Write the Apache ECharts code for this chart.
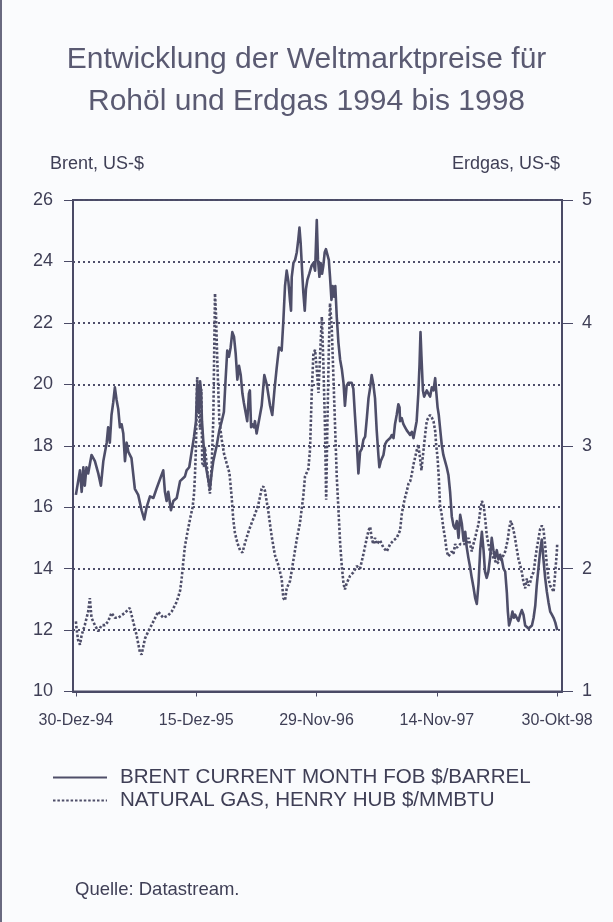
<!DOCTYPE html>
<html>
<head>
<meta charset="utf-8">
<script src="https://cdn.jsdelivr.net/npm/echarts@6/dist/echarts.min.js"></script>
<style>
html,body{margin:0;padding:0;background:#fafbfd;}
#c{width:613px;height:922px;}
</style>
</head>
<body>
<div id="c"></div>
<script>
// week index 0 = 30-Dez-94, 200 = 30-Okt-98
const xTickWeeks = [0, 50, 100, 150, 200];
const xTickLabels = ['30-Dez-94', '15-Dez-95', '29-Nov-96', '14-Nov-97', '30-Okt-98'];

// Brent current month FOB, $/barrel  [week, value]
const brentData = [[0,16.4],[1.7,17.2],[2.4,16.5],[3.1,17.3],[3.7,16.7],[4.4,17.3],[5.1,17.1],[6.5,17.7],[7.9,17.5],[9.3,17.1],[10.4,16.7],[11.4,17.5],[12.8,18.1],[13.4,18.6],[14.1,18.1],[14.8,19.0],[15.5,19.4],[16.2,19.9],[16.9,19.5],[17.6,19.2],[18.3,18.6],[19.0,18.7],[19.7,18.4],[20.4,17.5],[21.1,18.1],[21.8,17.8],[23.1,17.6],[24.5,16.6],[25.9,16.4],[27.3,15.9],[28.4,15.6],[29.4,16.0],[30.8,16.35],[32.2,16.3],[33.5,16.6],[34.9,16.9],[36.3,17.2],[37.0,16.5],[37.7,16.2],[38.4,16.5],[39.5,15.9],[40.5,16.2],[41.9,16.3],[43.3,16.85],[45.3,17.0],[46.0,17.2],[47.1,17.3],[48.1,17.8],[49.1,18.3],[49.9,18.8],[50.4,20.0],[51.0,19.1],[51.6,20.1],[52.0,19.8],[52.4,18.8],[52.9,18.2],[53.6,17.5],[54.3,17.2],[55.0,16.9],[55.7,16.6],[56.4,17.1],[57.1,17.5],[58.5,18.0],[59.6,18.5],[60.6,18.8],[61.5,19.1],[62.2,20.15],[62.9,21.1],[63.6,20.9],[64.3,21.2],[65.0,21.7],[65.7,21.55],[66.4,21.0],[67.1,20.15],[67.8,20.6],[68.5,20.3],[69.2,19.7],[69.8,19.4],[70.5,19.1],[71.2,18.8],[71.9,19.7],[72.3,19.8],[72.8,18.6],[73.3,18.7],[74.0,18.6],[74.4,18.8],[75.1,18.4],[75.8,18.7],[77.2,19.3],[78.3,20.3],[79.3,20.0],[80.7,19.3],[81.6,19.0],[82.5,19.8],[83.4,20.5],[84.4,21.2],[85.5,21.1],[86.2,22.05],[86.9,23.2],[87.6,23.7],[88.3,23.35],[89.0,22.7],[89.4,22.4],[89.7,23.5],[90.4,23.95],[91.1,24.05],[91.8,24.3],[92.4,24.7],[92.9,25.1],[93.4,24.6],[94.0,23.7],[94.5,23.0],[95.1,22.4],[95.6,23.1],[96.2,23.4],[97.0,23.6],[97.9,23.85],[98.7,23.95],[99.4,23.7],[100.1,25.35],[100.6,24.05],[101.2,23.5],[101.7,23.95],[102.3,23.6],[102.8,23.85],[103.4,24.3],[103.9,24.4],[104.5,24.4],[105.1,24.05],[105.6,23.5],[106.2,22.75],[106.7,23.2],[107.3,22.85],[107.8,23.2],[108.4,22.2],[109.1,21.35],[109.8,20.8],[110.5,20.5],[111.2,20.05],[111.8,19.3],[112.5,19.95],[113.2,20.05],[113.9,20.0],[114.6,20.05],[115.3,19.85],[116.0,18.95],[116.7,18.1],[117.4,17.1],[118.1,17.8],[118.8,17.9],[119.5,18.2],[120.2,18.3],[120.9,18.9],[121.6,19.55],[122.3,19.9],[122.9,20.3],[123.6,20.0],[124.3,19.55],[125.0,18.5],[125.7,17.7],[126.1,17.3],[126.7,17.5],[127.2,17.5],[127.8,17.7],[128.5,18.05],[129.2,18.15],[130.6,18.25],[131.3,18.35],[132.0,18.25],[132.6,18.7],[133.3,19.0],[134.0,19.35],[134.5,19.25],[134.7,18.8],[135.4,18.9],[136.1,18.7],[136.8,18.6],[137.5,18.5],[138.9,18.35],[139.6,18.45],[140.3,18.25],[140.9,18.25],[141.6,18.8],[142.3,19.7],[142.8,20.65],[143.2,21.7],[143.6,20.9],[144.2,19.8],[144.7,19.6],[145.3,19.7],[145.8,19.8],[146.5,19.7],[147.2,19.6],[147.9,19.9],[148.6,19.8],[149.3,20.2],[149.7,19.8],[150.3,19.25],[150.8,19.0],[151.3,18.6],[152.0,18.05],[152.7,17.7],[153.4,17.5],[154.1,17.3],[154.8,17.05],[155.5,16.5],[156.2,15.7],[156.9,15.4],[157.6,15.3],[158.3,15.55],[159.0,15.0],[159.7,15.75],[160.4,15.45],[161.1,14.9],[161.8,15.2],[162.4,14.7],[163.1,14.35],[163.8,14.05],[164.5,13.7],[165.2,13.4],[165.9,13.05],[166.6,12.85],[167.3,13.5],[168.0,14.6],[168.7,15.2],[169.4,14.6],[170.0,13.9],[170.7,13.7],[171.4,13.9],[172.1,14.35],[172.8,15.0],[173.5,14.6],[174.2,14.35],[174.9,14.6],[175.6,14.3],[176.3,14.45],[177.0,14.3],[177.7,14.0],[178.4,13.9],[179.1,13.2],[179.5,12.6],[180.0,12.15],[180.9,12.4],[181.4,12.6],[182.0,12.4],[182.5,12.5],[183.2,12.4],[183.9,12.3],[184.6,12.5],[185.3,12.65],[186.0,12.5],[186.7,12.15],[187.4,12.15],[188.1,12.05],[188.8,12.05],[189.5,12.15],[190.2,12.4],[190.9,12.8],[191.5,13.45],[192.2,14.0],[192.9,14.55],[193.6,14.95],[194.3,14.3],[195.0,13.7],[195.7,13.25],[196.4,12.9],[197.1,12.6],[197.8,12.5],[198.5,12.4],[199.2,12.25],[200,12.0]];

// Natural gas, Henry Hub $/MMBTU  [week, value]
const gasData = [[0,1.57],[0.3,1.51],[0.9,1.42],[1.7,1.38],[2.4,1.46],[3.7,1.54],[5.1,1.65],[5.8,1.76],[6.5,1.6],[7.9,1.54],[9.3,1.49],[10.7,1.54],[12.1,1.54],[13.4,1.57],[14.8,1.64],[16.2,1.6],[17.6,1.6],[19.0,1.62],[20.4,1.64],[22.4,1.68],[23.8,1.57],[25.2,1.46],[26.6,1.32],[27.3,1.3],[28.7,1.43],[30.1,1.49],[32.2,1.57],[34.2,1.65],[36.3,1.6],[38.4,1.62],[39.8,1.65],[41.9,1.73],[43.3,1.82],[43.9,1.91],[44.6,2.05],[45.3,2.18],[46.3,2.29],[47.4,2.4],[48.5,2.5],[49.1,2.61],[49.5,2.77],[49.9,2.99],[50.4,3.56],[51.0,3.32],[51.6,3.13],[52.1,3.46],[52.5,2.86],[53.2,2.83],[53.6,2.99],[54.3,2.86],[55.0,2.72],[55.7,2.61],[56.4,2.83],[57.1,3.21],[57.8,4.24],[58.2,4.08],[58.8,3.67],[59.6,3.21],[60.6,3.05],[61.5,2.94],[62.6,2.86],[63.8,2.78],[64.7,2.59],[65.4,2.4],[66.1,2.29],[67.1,2.21],[68.2,2.15],[69.2,2.13],[70.3,2.21],[71.7,2.3],[73.0,2.37],[74.4,2.44],[75.8,2.52],[77.2,2.65],[77.9,2.67],[78.6,2.63],[80.0,2.46],[81.3,2.27],[82.7,2.11],[84.1,2.03],[85.5,1.92],[86.2,1.76],[86.9,1.74],[87.6,1.84],[89.0,1.9],[90.4,2.07],[91.8,2.24],[93.1,2.37],[94.5,2.59],[95.2,2.75],[96.6,2.81],[97.3,2.97],[98.0,3.43],[98.7,3.75],[99.4,3.78],[100.1,3.62],[100.8,3.43],[101.5,3.75],[102.2,4.05],[102.8,3.7],[103.5,3.16],[104.0,2.56],[104.5,3.16],[105.1,3.78],[105.6,4.16],[106.3,3.97],[107.0,3.57],[107.7,3.16],[108.4,2.75],[109.1,2.48],[109.8,2.21],[110.5,2.02],[111.2,1.88],[111.8,1.83],[112.5,1.88],[113.9,1.94],[115.3,1.97],[116.7,2.02],[118.1,2.0],[119.5,2.12],[120.9,2.25],[121.6,2.31],[122.3,2.34],[122.9,2.25],[123.6,2.2],[124.3,2.25],[125.0,2.2],[126.4,2.23],[127.8,2.17],[129.2,2.14],[130.6,2.2],[132.0,2.23],[133.3,2.25],[134.7,2.31],[135.4,2.44],[136.1,2.52],[136.8,2.58],[137.5,2.63],[138.2,2.69],[138.9,2.71],[139.6,2.77],[140.3,2.85],[140.9,2.9],[141.6,2.96],[142.3,3.01],[143.0,2.9],[143.6,2.8],[144.1,2.9],[144.7,3.01],[145.3,3.12],[145.8,3.2],[146.5,3.23],[147.2,3.25],[147.9,3.23],[148.6,3.2],[149.3,3.12],[149.7,3.01],[150.3,2.9],[150.8,2.74],[151.3,2.52],[152.0,2.44],[152.7,2.33],[153.4,2.25],[154.1,2.14],[154.8,2.1],[155.5,2.09],[156.2,2.14],[156.9,2.12],[157.6,2.2],[158.3,2.17],[159.7,2.2],[161.1,2.2],[162.4,2.2],[163.1,2.25],[163.8,2.2],[164.5,2.14],[165.2,2.2],[165.9,2.25],[166.6,2.31],[167.3,2.36],[168.0,2.47],[168.7,2.55],[169.4,2.52],[170.0,2.42],[170.7,2.28],[171.4,2.2],[172.1,2.14],[173.5,2.09],[174.9,2.04],[175.6,2.03],[177.0,2.08],[178.4,2.14],[179.5,2.24],[180.0,2.32],[180.7,2.39],[181.4,2.35],[182.3,2.27],[183.2,2.16],[183.9,2.08],[184.6,2.03],[185.3,1.97],[186.0,1.89],[186.7,1.84],[187.4,1.92],[188.1,1.86],[188.8,1.89],[189.5,1.95],[190.2,1.97],[190.9,2.08],[191.5,2.16],[192.2,2.24],[192.9,2.32],[193.6,2.35],[194.3,2.32],[195.0,2.19],[195.7,2.03],[196.4,1.92],[197.1,1.86],[197.8,1.84],[198.5,1.81],[199.2,1.97],[199.9,2.15],[200,2.2]];

const seriesNames = ['BRENT CURRENT MONTH FOB $/BARREL', 'NATURAL GAS, HENRY HUB $/MMBTU'];

const FONT = "'Liberation Sans', Arial, sans-serif";
const INK = '#3f3f56';
const LINE = '#4e4e69';

const chart = echarts.init(document.getElementById('c'), null, {renderer: 'canvas'});
chart.setOption({
  backgroundColor: '#fafbfd',
  animation: false,
  textStyle: {fontFamily: FONT},
  title: [
    {text: 'Entwicklung der Weltmarktpreise für\nRohöl und Erdgas 1994 bis 1998', left: 'center', top: 34,
     textStyle: {fontFamily: FONT, fontSize: 30, fontWeight: 'normal', color: '#5a5a72', lineHeight: 42, align: 'center'}}
  ],
  graphic: [
    {type: 'text', left: 50, top: 155, style: {text: 'Brent, US-$', font: '18px ' + FONT, fill: INK}},
    {type: 'text', right: 53, top: 155, style: {text: 'Erdgas, US-$', font: '18px ' + FONT, fill: INK}},
    {type: 'text', left: 75, top: 880, style: {text: 'Quelle: Datastream.', font: '18.5px ' + FONT, fill: INK}},
    {type: 'rect', left: 0, top: 0, shape: {width: 2, height: 922}, style: {fill: '#6a6a80'}}
  ],
  legend: {
    orient: 'vertical', left: 47, top: 762, itemWidth: 54, itemHeight: 14, itemGap: 2,
    itemStyle: {opacity: 0},
    textStyle: {fontFamily: FONT, fontSize: 20.6, color: INK, padding: [0, 0, 0, 8]},
    data: seriesNames
  },
  grid: {left: 73, right: 51, top: 200, bottom: 230.5, show: true, borderColor: '#4a4a66', borderWidth: 2, backgroundColor: 'transparent', containLabel: false},
  xAxis: {
    type: 'value', min: -1.2, max: 202,
    axisLine: {show: true, onZero: false, lineStyle: {color: '#4a4a66', width: 2}},
    axisTick: {show: true, customValues: xTickWeeks, length: 5, lineStyle: {color: '#4a4a66', width: 1}},
    axisLabel: {customValues: xTickWeeks, formatter: v => xTickLabels[xTickWeeks.indexOf(v)] || '', fontFamily: FONT, fontSize: 16, color: INK, margin: 21},
    splitLine: {show: false}
  },
  yAxis: [
    {type: 'value', min: 10, max: 26, interval: 2, position: 'left',
     axisLine: {show: true, onZero: false, lineStyle: {color: '#4a4a66', width: 2}},
     axisTick: {show: true, length: 9, lineStyle: {color: '#4a4a66'}},
     axisLabel: {fontFamily: FONT, fontSize: 18, color: INK, margin: 20},
     splitLine: {show: true, lineStyle: {color: '#4e4e6a', width: 2, type: [2, 3]}}},
    {type: 'value', min: 1, max: 5, interval: 1, position: 'right',
     axisLine: {show: true, onZero: false, lineStyle: {color: '#4a4a66', width: 2}},
     axisTick: {show: true, length: 11, lineStyle: {color: '#4a4a66'}},
     axisLabel: {fontFamily: FONT, fontSize: 18, color: INK, margin: 20},
     splitLine: {show: false}}
  ],
  series: [
    {name: seriesNames[0], type: 'line', yAxisIndex: 0, data: brentData, symbol: 'none', showSymbol: false,
     lineStyle: {color: LINE, width: 2.6, join: 'round'}, itemStyle: {color: LINE}, z: 3},
    {name: seriesNames[1], type: 'line', yAxisIndex: 1, data: gasData, symbol: 'none', showSymbol: false,
     lineStyle: {color: LINE, width: 2.6, type: [2.5, 1.9]}, itemStyle: {color: LINE}, z: 2}
  ]
});
</script>
</body>
</html>
